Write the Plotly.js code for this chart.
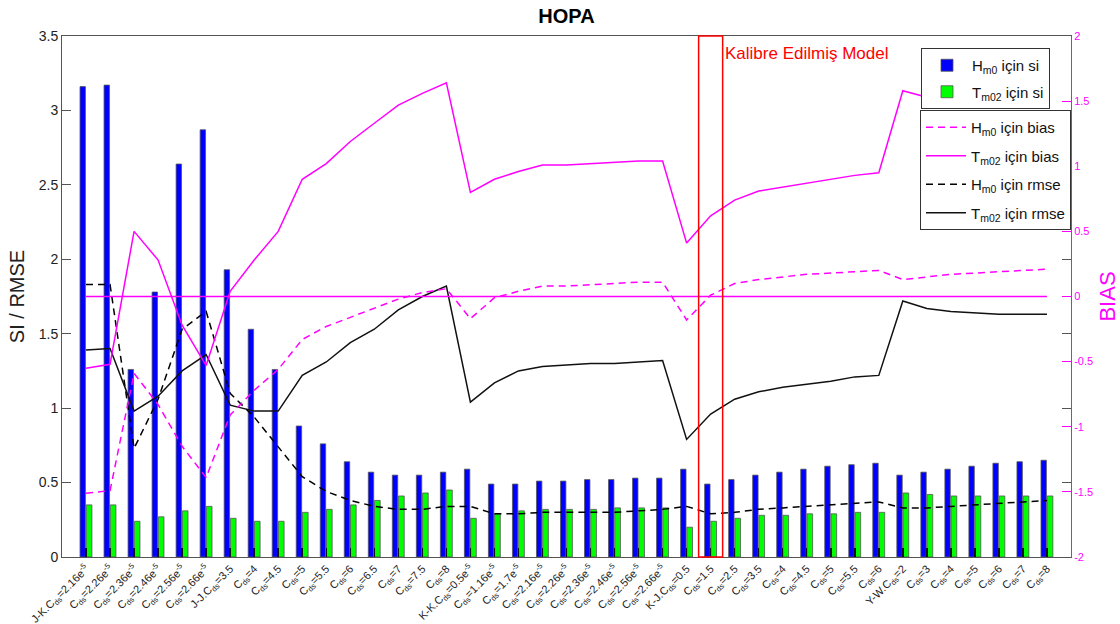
<!DOCTYPE html>
<html>
<head>
<meta charset="utf-8">
<script src="https://cdn.plot.ly/plotly-3.0.1.min.js"></script>
<style>html,body{margin:0;padding:0;background:#fff;}#chart{width:1120px;height:624px;}</style>
</head>
<body>
<div id="chart"></div>
<script>
const categories = [1,2,3,4,5,6,7,8,9,10,11,12,13,14,15,16,17,18,19,20,21,22,23,24,25,26,27,28,29,30,31,32,33,34,35,36,37,38,39,40,41];
const tickLabels = [
 'J-K.C<sub>ds</sub>=2.16e<sup>-5</sup>','C<sub>ds</sub>=2.26e<sup>-5</sup>','C<sub>ds</sub>=2.36e<sup>-5</sup>','C<sub>ds</sub>=2.46e<sup>-5</sup>','C<sub>ds</sub>=2.56e<sup>-5</sup>','C<sub>ds</sub>=2.66e<sup>-5</sup>',
 'J-J.C<sub>ds</sub>=3.5','C<sub>ds</sub>=4','C<sub>ds</sub>=4.5','C<sub>ds</sub>=5','C<sub>ds</sub>=5.5','C<sub>ds</sub>=6','C<sub>ds</sub>=6.5','C<sub>ds</sub>=7','C<sub>ds</sub>=7.5','C<sub>ds</sub>=8',
 'K-K.C<sub>ds</sub>=0.5e<sup>-5</sup>','C<sub>ds</sub>=1.16e<sup>-5</sup>','C<sub>ds</sub>=1.7e<sup>-5</sup>','C<sub>ds</sub>=2.16e<sup>-5</sup>','C<sub>ds</sub>=2.26e<sup>-5</sup>','C<sub>ds</sub>=2.36e<sup>-5</sup>','C<sub>ds</sub>=2.46e<sup>-5</sup>','C<sub>ds</sub>=2.56e<sup>-5</sup>','C<sub>ds</sub>=2.66e<sup>-5</sup>',
 'K-J.C<sub>ds</sub>=0.5','C<sub>ds</sub>=1.5','C<sub>ds</sub>=2.5','C<sub>ds</sub>=3.5','C<sub>ds</sub>=4','C<sub>ds</sub>=4.5','C<sub>ds</sub>=5','C<sub>ds</sub>=5.5','C<sub>ds</sub>=6',
 'Y-W.C<sub>ds</sub>=2','C<sub>ds</sub>=3','C<sub>ds</sub>=4','C<sub>ds</sub>=5','C<sub>ds</sub>=6','C<sub>ds</sub>=7','C<sub>ds</sub>=8'
];
const hm0Si = [3.16,3.17,1.26,1.78,2.64,2.87,1.93,1.53,1.26,0.88, 0.76,0.64,0.57,0.55,0.55,0.57,0.59,0.49,0.49,0.51, 0.51,0.52,0.52,0.53,0.53,0.59,0.49,0.52,0.55,0.57, 0.59,0.61,0.62,0.63,0.55,0.57,0.59,0.61,0.63,0.64,0.65];
const tm02Si = [0.35,0.35,0.24,0.27,0.31,0.34,0.26,0.24,0.24,0.30, 0.32,0.35,0.38,0.41,0.43,0.45,0.26,0.29,0.31,0.32, 0.32,0.32,0.33,0.33,0.33,0.20,0.24,0.26,0.28,0.28, 0.29,0.29,0.30,0.30,0.43,0.42,0.41,0.41,0.41,0.41,0.41];
const hm0Bias = [-1.51,-1.49,-0.59,-0.83,-1.15,-1.39,-0.91,-0.72,-0.56,-0.33, -0.23,-0.16,-0.09,-0.02,0.03,0.06,-0.17,-0.01,0.04,0.08, 0.08,0.09,0.10,0.11,0.11,-0.18,0.01,0.10,0.13,0.15, 0.17,0.18,0.19,0.20,0.13,0.15,0.17,0.18,0.19,0.20,0.21];
const tm02Bias = [-0.55,-0.52,0.50,0.28,-0.22,-0.53,0.04,0.28,0.50,0.90, 1.02,1.19,1.33,1.47,1.56,1.64,0.80,0.90,0.96,1.01, 1.01,1.02,1.03,1.04,1.04,0.41,0.62,0.74,0.81,0.84, 0.87,0.90,0.93,0.95,1.58,1.53,1.50,1.49,1.48,1.48,1.48];
const hm0Rmse = [1.83,1.83,0.73,1.06,1.53,1.65,1.10,0.94,0.74,0.54, 0.44,0.38,0.34,0.32,0.32,0.34,0.34,0.29,0.29,0.30, 0.30,0.30,0.30,0.31,0.32,0.34,0.29,0.30,0.32,0.33, 0.34,0.35,0.36,0.37,0.33,0.33,0.34,0.35,0.36,0.37,0.38];
const tm02Rmse = [1.39,1.40,0.98,1.08,1.25,1.36,1.02,0.98,0.98,1.22, 1.31,1.44,1.53,1.66,1.75,1.82,1.04,1.17,1.25,1.28, 1.29,1.30,1.30,1.31,1.32,0.79,0.96,1.06,1.11,1.14, 1.16,1.18,1.21,1.22,1.72,1.67,1.65,1.64,1.63,1.63,1.63];
const zeroBias = [0,0,0,0,0,0,0,0,0,0, 0,0,0,0,0,0,0,0,0,0, 0,0,0,0,0,0,0,0,0,0, 0,0,0,0,0,0,0,0,0,0,0];
const calibIndex = 27;
const calibText = 'Kalibre Edilmiş Model';

const MAG = '#ff00ff';
const FONT = 'Arial, "Liberation Sans", Helvetica, sans-serif';
const dashPat = '7px,5px';

const traces = [
  {type:'bar', x:categories, y:hm0Si, name:'H<sub>m0</sub> için si', offset:-0.25, width:0.225,
   marker:{color:'#0000ff', line:{color:'#555', width:0.8}}, legend:'legend', legendgroup:'a', hoverinfo:'y'},
  {type:'bar', x:categories, y:tm02Si, name:'T<sub>m02</sub> için si', offset:0.01, width:0.235,
   marker:{color:'#00ff00', line:{color:'#555', width:0.8}}, legend:'legend', legendgroup:'b', hoverinfo:'y'},
  {type:'scatter', mode:'lines', x:categories, y:hm0Bias, yaxis:'y2', name:'H<sub>m0</sub> için bias',
   line:{color:MAG, width:1.5, dash:dashPat}, legend:'legend2', legendgroup:'c'},
  {type:'scatter', mode:'lines', x:categories, y:tm02Bias, yaxis:'y2', name:'T<sub>m02</sub> için bias',
   line:{color:MAG, width:1.5}, legend:'legend2', legendgroup:'d'},
  {type:'scatter', mode:'lines', x:categories, y:hm0Rmse, yaxis:'y', name:'H<sub>m0</sub> için rmse',
   line:{color:'#000', width:1.5, dash:dashPat}, legend:'legend2', legendgroup:'e'},
  {type:'scatter', mode:'lines', x:categories, y:tm02Rmse, yaxis:'y', name:'T<sub>m02</sub> için rmse',
   line:{color:'#111', width:1.5}, legend:'legend2', legendgroup:'f'},
  {type:'scatter', mode:'lines', x:categories, y:zeroBias, yaxis:'y2', showlegend:false,
   line:{color:MAG, width:1.5}}
];

const layout = {
  width:1120, height:624,
  margin:{l:62, r:49, t:36, b:67},
  paper_bgcolor:'#fff', plot_bgcolor:'#fff',
  font:{family:FONT, color:'#222'},
  barmode:'overlay',
  showlegend:true,
  title:{text:'<b>HOPA</b>', font:{size:20, color:'#000', family:FONT}, x:0.5, xref:'paper', y:0.975, yref:'container', yanchor:'middle'},
  xaxis:{range:[0,42], tickmode:'array', tickvals:categories, ticktext:tickLabels, tickangle:-45,
    ticks:'inside', ticklen:9, tickwidth:1.5, tickcolor:'#111', showline:true, linecolor:'#555', linewidth:1,
    mirror:true, showgrid:false, zeroline:false, tickfont:{size:11, color:'#222'}},
  yaxis:{range:[0,3.5], tickmode:'array', tickvals:[0,0.5,1,1.5,2,2.5,3,3.5], ticktext:['0','0.5','1','1.5','2','2.5','3','3.5'],
    ticks:'inside', ticklen:9, tickcolor:'#555', showline:true, linecolor:'#555', mirror:'ticks',
    showgrid:false, zeroline:false, tickfont:{size:14, color:'#222'},
    title:{text:'SI / RMSE', font:{size:20, color:'#222'}, standoff:8}},
  yaxis2:{overlaying:'y', side:'right', range:[-2,2], tickmode:'array',
    tickvals:[-2,-1.5,-1,-0.5,0,0.5,1,1.5,2], ticktext:['-2','-1.5','-1','-0.5','0','0.5','1','1.5','2'],
    ticks:'inside', ticklen:9, tickcolor:MAG, showline:true, linecolor:MAG, linewidth:1,
    showgrid:false, zeroline:false, tickfont:{size:11, color:MAG},
    title:{text:'BIAS', font:{size:22, color:MAG}, standoff:10}},
  legend:{x:(1050-62)/1009, xanchor:'right', y:(557-48)/521, yanchor:'top', bgcolor:'#fff', bordercolor:'#333', borderwidth:1,
    font:{size:15, color:'#111'}, traceorder:'grouped', tracegroupgap:4, itemwidth:40},
  legend2:{x:1.0, xanchor:'right', y:(557-110)/521, yanchor:'top', bgcolor:'#fff', bordercolor:'#333', borderwidth:1,
    font:{size:15, color:'#111'}, traceorder:'grouped', tracegroupgap:6, itemwidth:40},
  shapes:[{type:'rect', xref:'x', yref:'paper', x0:calibIndex-0.5, x1:calibIndex+0.5, y0:0, y1:1,
    line:{color:'#ff0000', width:1.5}, fillcolor:'rgba(0,0,0,0)'}],
  annotations:[{text:calibText, xref:'x', yref:'paper', x:calibIndex+0.5, y:(557-53)/521, xanchor:'left', yanchor:'middle',
    showarrow:false, font:{size:17, color:'#ff0000'}}]
};

Plotly.newPlot('chart', traces, layout, {displayModeBar:false, staticPlot:true});
</script>
</body>
</html>
